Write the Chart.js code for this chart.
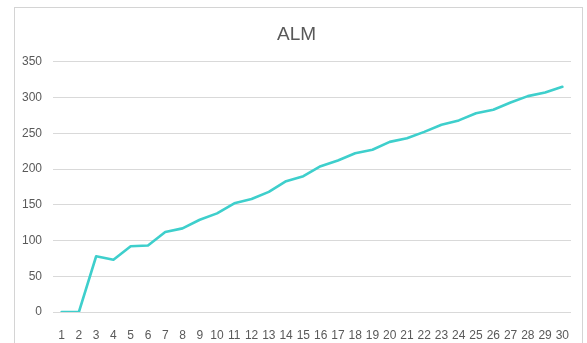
<!DOCTYPE html>
<html>
<head>
<meta charset="utf-8">
<script src="https://cdn.jsdelivr.net/npm/chart.js@4/dist/chart.umd.min.js"></script>
<style>
  html, body { margin: 0; padding: 0; background: #ffffff; overflow: hidden; }
  #wrap { position: relative; width: 587px; height: 343px; }
  #frame {
    position: absolute; left: 14px; top: 7px; width: 569px; height: 400px;
    border: 1px solid #d4d4d4; box-sizing: border-box;
  }
  #c { position: absolute; left: 0; top: 0; }
</style>
</head>
<body>
<div id="wrap">
  <div id="frame"></div>
  <canvas id="c" width="587" height="343"></canvas>
</div>
<script>
// Days 1..30
const categories = Array.from({ length: 30 }, (_, i) => String(i + 1));

// ALM cumulative values per day
const almValues = [
  0, 0, 78, 73, 92, 93, 112, 117, 129, 138,
  152, 158, 168, 183, 190, 204, 212, 222, 227, 238,
  243, 252, 262, 268, 278, 283, 293, 302, 307, 315
];

// y-axis range and step
const yMin = 0;
const yMax = 350;
const yStep = 50;

const labelFont = { family: "'Liberation Sans', Arial, sans-serif", size: 12 };

new Chart(document.getElementById('c'), {
  type: 'line',
  data: {
    labels: categories,
    datasets: [{
      label: 'ALM',
      data: almValues,
      borderColor: '#3ecfcc',
      borderWidth: 2.6,
      pointRadius: 0,
      pointHoverRadius: 0,
      tension: 0,
      fill: false,
      borderJoinStyle: 'round',
      borderCapStyle: 'round'
    }]
  },
  options: {
    responsive: false,
    animation: false,
    events: [],
    layout: { padding: { left: 22, right: 16, top: 0, bottom: 0 } },
    plugins: {
      legend: { display: false },
      tooltip: { enabled: false },
      title: {
        display: true,
        text: 'ALM',
        color: '#595959',
        font: { family: "'Liberation Sans', Arial, sans-serif", size: 19, weight: 'normal' },
        padding: { top: 23, bottom: 16 }
      }
    },
    scales: {
      x: {
        offset: true,
        grid: { display: false, drawTicks: false },
        border: { display: false },
        afterFit: (scale) => { scale.height = 31; },
        ticks: {
          color: '#595959',
          font: labelFont,
          padding: 16,
          autoSkip: false,
          maxRotation: 0,
          minRotation: 0
        }
      },
      y: {
        min: yMin,
        max: yMax,
        grid: { color: '#d9d9d9', lineWidth: 1, drawTicks: false },
        border: { display: false },
        afterFit: (scale) => { scale.width = 31; },
        ticks: {
          stepSize: yStep,
          color: '#595959',
          font: labelFont,
          padding: 11
        }
      }
    }
  }
});
</script>
</body>
</html>
